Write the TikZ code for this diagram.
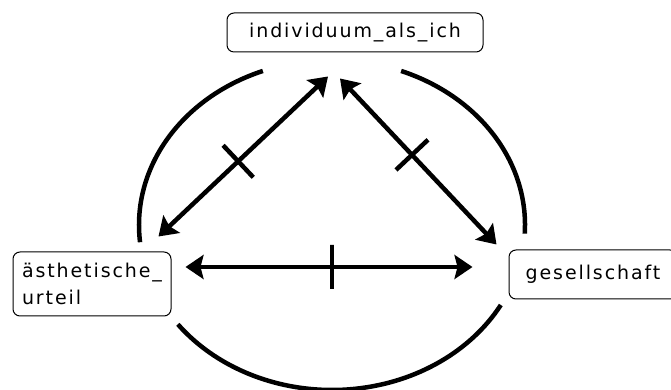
\documentclass[tikz,border=0pt]{standalone}
\usepackage{fontspec}
\setmainfont{DejaVu Sans}[LetterSpace=10]
\usetikzlibrary{arrows.meta, positioning, calc}

\begin{document}
\begin{tikzpicture}[
		x=1pt, y=1pt,
		every node/.style={font=\fontsize{19}{27}\selectfont},
		box/.style={draw, rounded corners=7pt, line width=1pt, inner sep=0pt},
		link/.style={{Stealth[length=18pt,width=24pt,inset=3pt]}-{Stealth[length=18pt,width=24pt,inset=3pt]}, line width=4.5pt},
		ring/.style={line width=4.5pt},
		tick/.style={draw, line width=4.5pt, minimum width=0pt, minimum height=44pt, inner sep=0pt, outer sep=0pt, sloped}
		]
		\useasboundingbox (0,0) rectangle (671,390);
		% Diagram drawing
		\node[box, minimum width=256, minimum height=39] at (355,357.5) (ich) {individuum\_als\_ich};
		\node[box, minimum width=158, minimum height=64, align=left] at (92,106) (aest) {ästhetische\_\\urteil};
		\node[box, minimum width=168, minimum height=49] at (593,115.5) (ges) {gesellschaft};
		\coordinate (ctr) at (332,165);
		% draw arrows
		\draw[link] ([xshift=-13pt,yshift=15pt]aest.north east) -- ([xshift=-27pt,yshift=-24pt]ich.south) node[tick, pos=.47] {};
		\draw[link] ([xshift=-15pt,yshift=-26pt]ich.south) -- ([xshift=-12pt,yshift=5pt]ges.north west) node[tick, pos=.46] {};
		\draw[link] ([xshift=14pt,yshift=17pt]aest.east) -- ([xshift=-36pt,yshift=7.5pt]ges.west) node[tick, pos=.51] {};
		% circle round it
		\draw[ring] ([shift={(111:193 and 165)}]ctr) arc[start angle=111, end angle=186, x radius=193, y radius=165];
		\draw[ring] ([shift={(-3:193 and 165)}]ctr) arc[start angle=-3, end angle=69, x radius=193, y radius=165];
		\draw[ring] ([shift={(217:193 and 165)}]ctr) arc[start angle=217, end angle=331, x radius=193, y radius=165];
	\end{tikzpicture}
\end{document}
